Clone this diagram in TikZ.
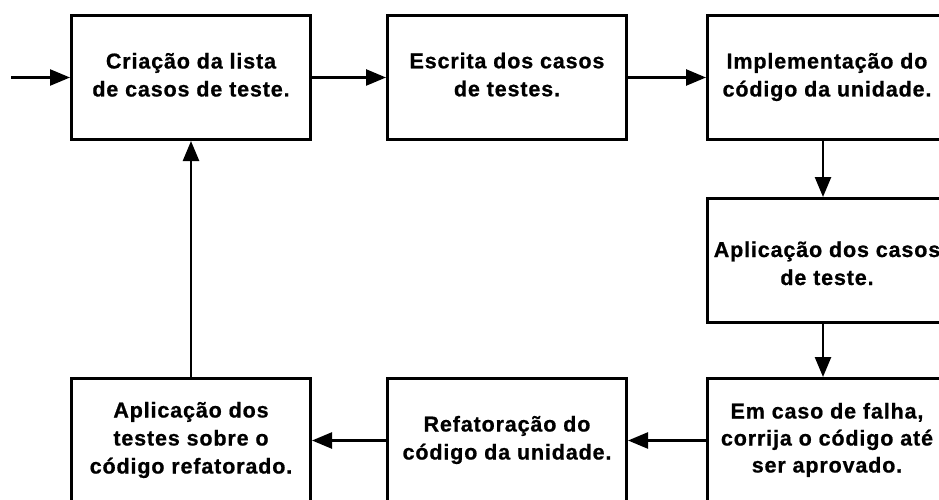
\documentclass[tikz,border=0pt]{standalone}
\usepackage{fontspec}
\newfontfamily\boxfont{Liberation Sans}[LetterSpace=4,BoldFeatures={FakeBold=0.8}]
\usetikzlibrary{arrows.meta}
\newcommand\topst[1][16pt]{\rule{0pt}{#1}}
\newcommand\botst{\rule[-6pt]{0pt}{6pt}}
\begin{document}
\begin{tikzpicture}[x=1pt,y=-1pt,
  box/.style={draw=black, line width=3pt, minimum width=239pt, minimum height=124pt,
    inner sep=0pt, align=center, anchor=center,
    font=\boxfont\bfseries\fontsize{21.5pt}{28pt}\selectfont},
  conn/.style={line width=2.5pt, -{Triangle[length=20pt,width=16pt]}}]
\useasboundingbox (0,0) rectangle (939,500);
\fill[white] (0,0) rectangle (939,500);
\clip (0,0) rectangle (939,500);
\node[box] (b1) at (191,77.5) {\topst Criação da lista\\de casos de teste.\botst};
\node[box] (b2) at (507,77.5) {\topst[14pt]Escrita dos casos\\de testes.\botst};
\node[box] (b3) at (827,77.5) {\topst Implementação do\\código da unidade.\botst};
\node[box] (b4) at (827,260.5) {\topst[27pt]Aplicação dos casos\\de teste.\botst};
\node[box] (b5) at (827,440.5) {\topst Em caso de falha,\\[-1pt]corrija o código até\\[-1pt]ser aprovado.\botst};
\node[box] (b6) at (507,440.5) {\topst Refatoração do\\código da unidade.\botst};
\node[box] (b7) at (191,440.5) {\topst Aplicação dos\\testes sobre o\\código refatorado.\botst};
\coordinate (in) at (11,77.5);
\draw[conn] (in) -- (b1.west);
\draw[conn] (b1.east) -- (b2.west);
\draw[conn] (b2.east) -- (b3.west);
\draw[conn] ([xshift=-4pt]b3.south) -- ([xshift=-4pt]b4.north);
\draw[conn] ([xshift=-4pt]b4.south) -- ([xshift=-4pt]b5.north);
\draw[conn] (b5.west) -- (b6.east);
\draw[conn] (b6.west) -- (b7.east);
\draw[conn] (b7.north) -- (b1.south);
\end{tikzpicture}
\end{document}
